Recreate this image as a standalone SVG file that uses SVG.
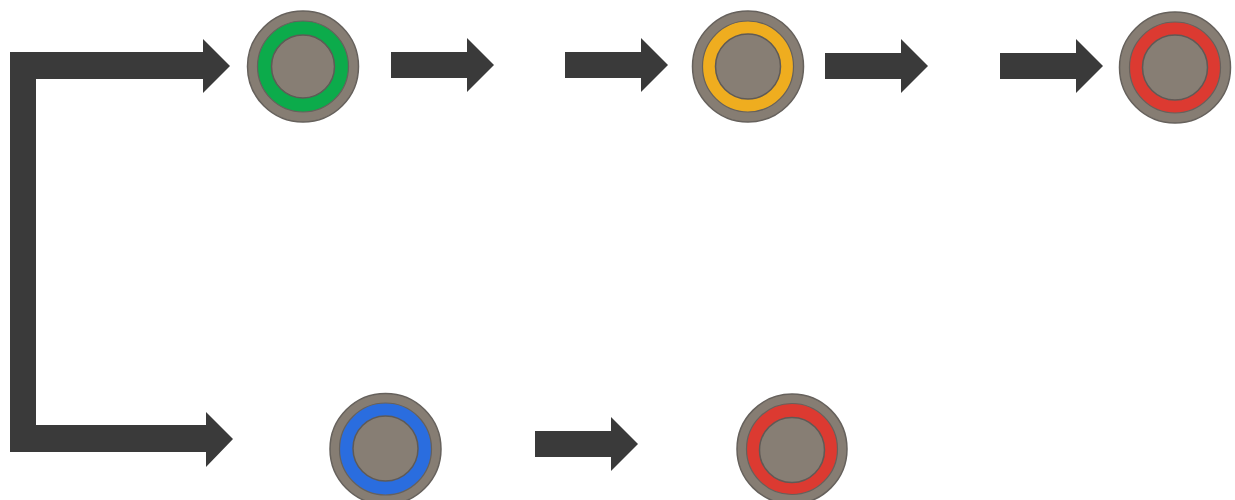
<svg xmlns="http://www.w3.org/2000/svg" width="1235" height="500" viewBox="0 0 1235 500">
<defs>
<style>
.outer{fill:#867d73;stroke:#66615c;stroke-width:1.5}
.inner{fill:#877e74;stroke:#5f5a56;stroke-width:1.5}
.ring{stroke:#66615c;stroke-width:1.2}
.arr{fill:#3a3a3a}
</style>
<path id="blk" class="arr" d="M0,-13 L76,-13 L76,-27 L103,0 L76,27 L76,13 L0,13 Z"/>
</defs>
<rect width="1235" height="500" fill="#ffffff"/>
<g id="connectors">
<path class="arr" d="M10,52 L203,52 L203,39 L230,66 L203,93 L203,79 L36,79 L36,425 L206,425 L206,412 L233,439 L206,467 L206,452 L10,452 Z"/>
<use href="#blk" x="391" y="65"/>
<use href="#blk" x="565" y="65"/>
<use href="#blk" x="825" y="66"/>
<use href="#blk" x="1000" y="66"/>
<use href="#blk" x="535" y="444"/>
</g>
<g id="node-green">
<circle class="outer" cx="303" cy="66.5" r="55.5"/>
<circle class="ring" cx="303" cy="66.5" r="45.5" fill="#0cab4b"/>
<circle class="inner" cx="303" cy="66.5" r="31.5"/>
</g>
<g id="node-yellow">
<circle class="outer" cx="748" cy="66.5" r="55.5"/>
<circle class="ring" cx="748" cy="66.5" r="45.5" fill="#efad1f"/>
<circle class="inner" cx="748" cy="66.5" r="32.5"/>
</g>
<g id="node-red-top">
<circle class="outer" cx="1175" cy="67.5" r="55.5"/>
<circle class="ring" cx="1175" cy="67.5" r="45.5" fill="#dc3a31"/>
<circle class="inner" cx="1175" cy="67.5" r="32.5"/>
</g>
<g id="node-blue">
<circle class="outer" cx="385.5" cy="449" r="55.5"/>
<circle class="ring" cx="385.5" cy="449" r="46" fill="#2a6ddf"/>
<circle class="inner" cx="385.5" cy="448.5" r="32.5"/>
</g>
<g id="node-red-bottom">
<circle class="outer" cx="792" cy="449" r="55"/>
<circle class="ring" cx="792" cy="449" r="45.5" fill="#dc3a31"/>
<circle class="inner" cx="792" cy="450" r="32.5"/>
</g>
</svg>
